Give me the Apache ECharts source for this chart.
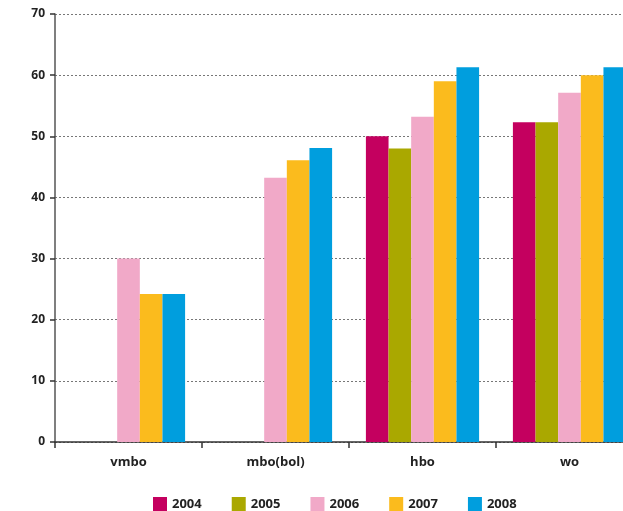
<!DOCTYPE html>
<html><head><meta charset="utf-8">
<script src="https://cdn.jsdelivr.net/npm/echarts@6/dist/echarts.min.js"></script>
<style>html,body{margin:0;padding:0;background:#fff;overflow:hidden}#c{width:643px;height:511px}</style>
</head><body><div id="c"></div>
<script>
const categories = ["vmbo", "mbo(bol)", "hbo", "wo"];
const years = ["2004", "2005", "2006", "2007", "2008"];
const colors = ["#c4005f", "#aaa800", "#f1a9c8", "#fbbb1d", "#009ede"];
const s2004 = [null, null, 50, 52.3];
const s2005 = [null, null, 48, 52.3];
const s2006 = [30, 43.2, 53.2, 57.1];
const s2007 = [24.2, 46.1, 59, 60];
const s2008 = [24.2, 48.1, 61.3, 61.3];
const seriesData = [s2004, s2005, s2006, s2007, s2008];
const yTicks = [0, 10, 20, 30, 40, 50, 60, 70];
const font = "'Open Sans', sans-serif";
const chart = echarts.init(document.getElementById('c'), null, {renderer: 'canvas'});
chart.setOption({
  animation: false,
  color: colors,
  grid: {left: 55, top: 14, bottom: 69, right: 0, containLabel: false},
  legend: {
    data: years, top: 492, left: 148, itemWidth: 14, itemHeight: 14, itemGap: 30,
    icon: 'rect',
    textStyle: {fontFamily: font, fontWeight: 'bold', fontSize: 13, color: '#222'}
  },
  xAxis: {
    type: 'category', data: categories,
    axisLine: {lineStyle: {color: '#333', width: 1.5}},
    axisTick: {show: true, length: 6, lineStyle: {color: '#333', width: 1.5}},
    axisLabel: {margin: 14, fontFamily: font, fontWeight: 'bold', fontSize: 13, color: '#222'}
  },
  yAxis: {
    type: 'value', min: yTicks[0], max: yTicks[yTicks.length - 1], interval: 10,
    axisLine: {show: true, lineStyle: {color: '#555', width: 1.5}},
    axisTick: {show: true, length: 5, lineStyle: {color: '#333', width: 1.5}},
    axisLabel: {margin: 10, fontFamily: font, fontWeight: 'bold', fontSize: 12, color: '#222'},
    splitLine: {show: true, lineStyle: {color: '#777', type: [2, 2], width: 1}}
  },
  series: years.map((y, i) => ({
    name: y, type: 'bar', data: seriesData[i],
    barGap: '0%', barCategoryGap: '23%',
    itemStyle: {color: colors[i]}
  }))
});
</script></body></html>
